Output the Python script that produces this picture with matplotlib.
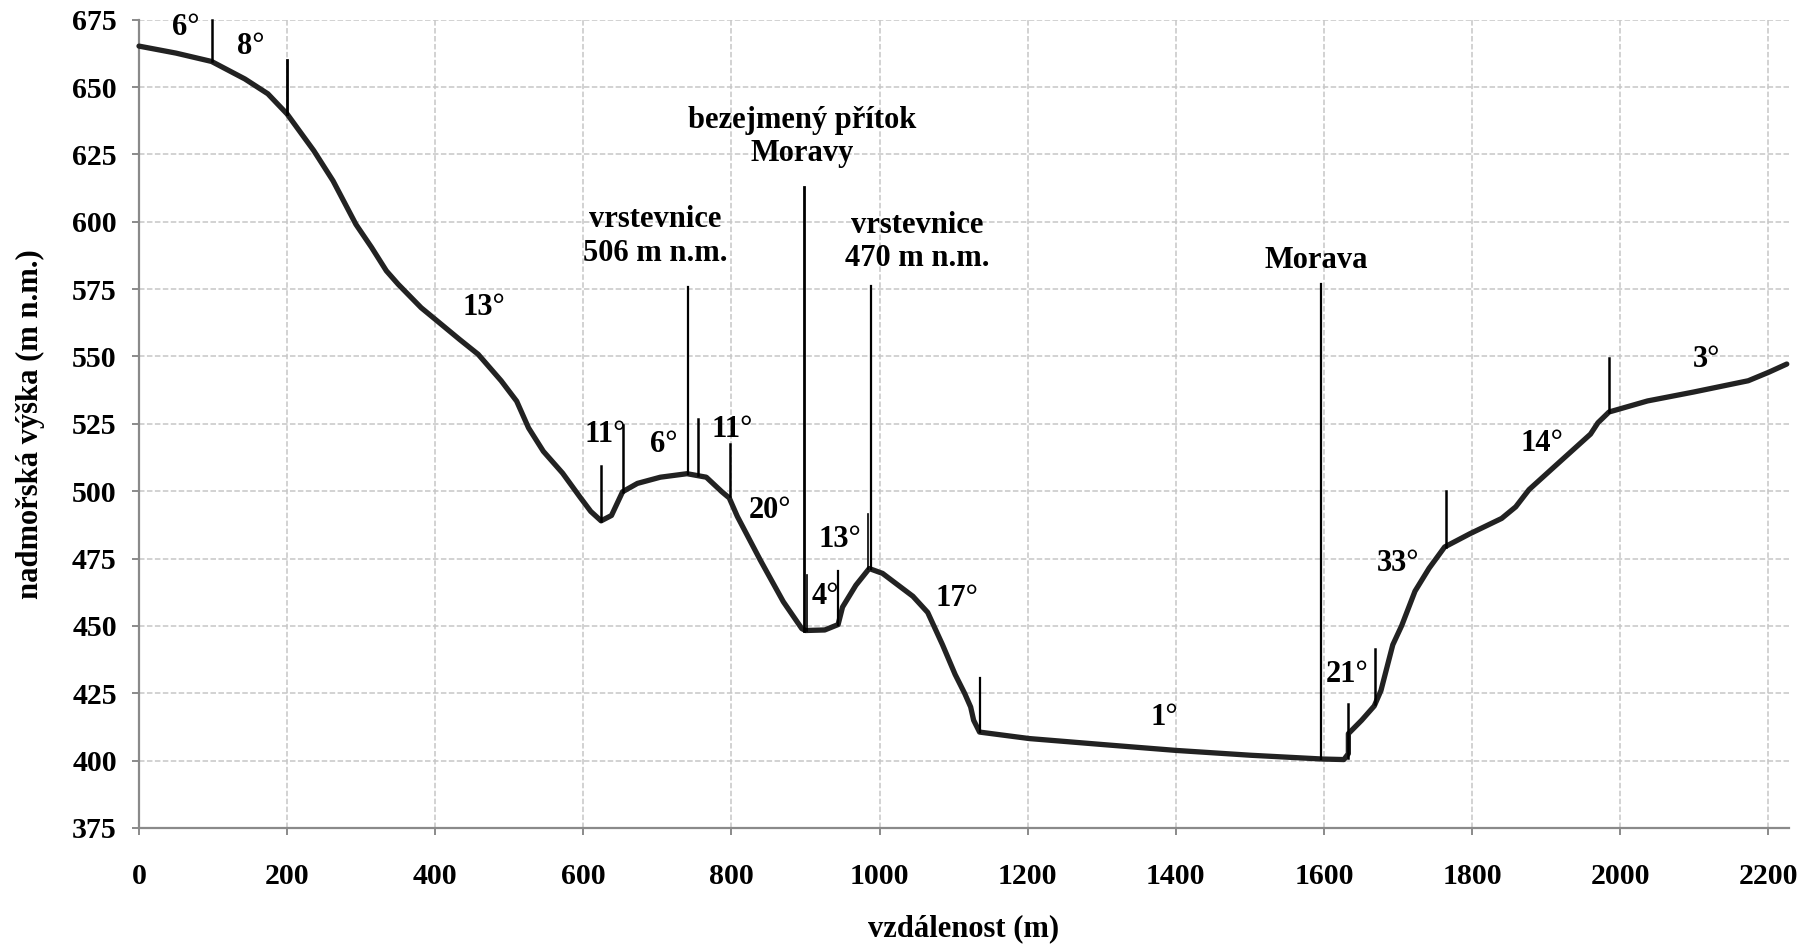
import matplotlib
matplotlib.use("Agg")
import matplotlib.pyplot as plt

plt.rcParams['font.family'] = ['Liberation Serif', 'DejaVu Serif']
plt.rcParams['font.weight'] = 'bold'

# Terrain profile (distance m, altitude m n.m.)
dist = [0, 50, 98, 143, 174, 200, 236, 262, 293, 314, 334, 350, 381, 400, 433, 458,
        489, 510, 526, 546, 572, 595, 610, 624, 638, 653, 673, 704, 740, 766, 787,
        797, 808, 839, 870, 895, 900, 926, 944, 950, 968, 986, 1004, 1045, 1065,
        1085, 1102, 1115, 1123, 1127, 1135, 1202, 1300, 1400, 1501, 1598, 1627,
        1633, 1633, 1651, 1668, 1677, 1693, 1705, 1723, 1742, 1763, 1797, 1840,
        1859, 1877, 1914, 1960, 1970, 1985, 2037, 2099, 2173, 2201, 2225]
alt = [665.2, 662.6, 659.5, 653, 647.5, 640, 626.4, 615.2, 599, 590.5, 581.8, 576.8,
       568.1, 563.8, 556.3, 550.8, 541, 533.4, 523.5, 514.8, 506.7, 498, 492.5, 489,
       491, 499.8, 502.9, 505.2, 506.5, 505.2, 499.8, 497.5, 490.6, 474.4, 459, 449,
       448.3, 448.5, 450.5, 457, 465.1, 471.3, 469.5, 461, 455, 443, 432, 424.9,
       419.9, 415, 410.6, 408.2, 406, 403.8, 402, 400.6, 400.4, 402.6, 410, 415,
       420.3, 426, 443, 450.1, 462.9, 471.4, 479.3, 484.2, 489.9, 494.2, 500.6,
       509.8, 521.2, 525.4, 529.4, 533.5, 536.8, 541, 544.2, 547.2]

# Vertical marker lines: x, bottom, top, width
mark_x = [98, 200, 624, 653, 741, 755, 798, 898, 902, 944, 984, 988, 1135, 1596, 1632, 1669, 1765, 1985]
mark_y0 = [659.5, 640, 489, 499.8, 506.5, 506.2, 498.3, 448.3, 448.3, 450.5, 471.3, 471.3, 410.6, 400.6, 401, 421, 479.3, 529.4]
mark_y1 = [675, 660, 509.5, 524.5, 575.8, 526.8, 517.5, 613, 469, 470.5, 491.5, 576, 430.7, 577, 421, 441.5, 500, 549.6]
mark_w = [1.8, 2.0, 1.8, 1.8, 1.6, 1.8, 1.8, 2.0, 1.2, 1.6, 1.2, 1.6, 1.6, 1.6, 1.8, 1.8, 1.8, 1.8]

# Text annotations: label, x, y
ann_text = ['6°', '8°', '13°', 'vrstevnice\n506 m n.m.', '11°', '6°', '11°', '20°',
            'bezejmený přítok\nMoravy', 'vrstevnice\n470 m n.m.', '13°', '4°', '17°',
            '1°', 'Morava', '21°', '33°', '14°', '3°']
ann_x = [63, 151, 466, 697, 629, 708, 801, 852, 896, 1051, 947, 927, 1104, 1384, 1589, 1631, 1700, 1894, 2117]
ann_y = [672, 665, 568, 594.5, 521.2, 517.3, 522.9, 492.8, 631.5, 592.5, 482, 461, 460, 416, 585.6, 431.8, 473, 517.7, 549]

xticks = list(range(0, 2201, 200))
yticks = list(range(375, 676, 25))

W, H = 1816, 949
fig = plt.figure(figsize=(W / 100, H / 100), dpi=100)
ax = fig.add_axes([139 / W, 1 - 828 / H, 1650 / W, (828 - 19.7) / H])

ax.set_xlim(0, 2228)
ax.set_ylim(375, 675)
ax.set_xticks(xticks)
ax.set_yticks(yticks)
ax.grid(True, color='#c6c6c6', linestyle=(0, (3.6, 1.6)), linewidth=1.1)
ax.set_axisbelow(True)

for s in ['top', 'right']:
    ax.spines[s].set_visible(False)
for s in ['left', 'bottom']:
    ax.spines[s].set_color('#8a8a8a')
    ax.spines[s].set_linewidth(1.6)

ax.tick_params(axis='both', colors='#8a8a8a', length=5, width=1.4, labelcolor='black', labelsize=21.5)
ax.tick_params(axis='y', pad=11)
ax.tick_params(axis='x', pad=20)
for lab in ax.get_xticklabels() + ax.get_yticklabels():
    lab.set_fontweight('bold')

ax.plot(dist, alt, color='#222222', linewidth=3.8, solid_joinstyle='round',
        solid_capstyle='round', zorder=3, clip_on=False)

for x, y0, y1, w in zip(mark_x, mark_y0, mark_y1, mark_w):
    ax.plot([x, x], [y0, y1], color='black', linewidth=w, zorder=4, clip_on=False)

for t, x, y in zip(ann_text, ann_x, ann_y):
    ax.text(x, y, t, ha='center', va='center', fontsize=22, fontweight='bold',
            linespacing=1.2, zorder=5)

fig.text(964 / W, 1 - 929 / H, 'vzdálenost (m)', ha='center', va='center',
         fontsize=22, fontweight='bold')
fig.text(30 / W, 1 - 424 / H, 'nadmořská výška (m n.m.)', ha='center', va='center',
         rotation=90, fontsize=22, fontweight='bold')

fig.savefig('out.png', dpi=100)
